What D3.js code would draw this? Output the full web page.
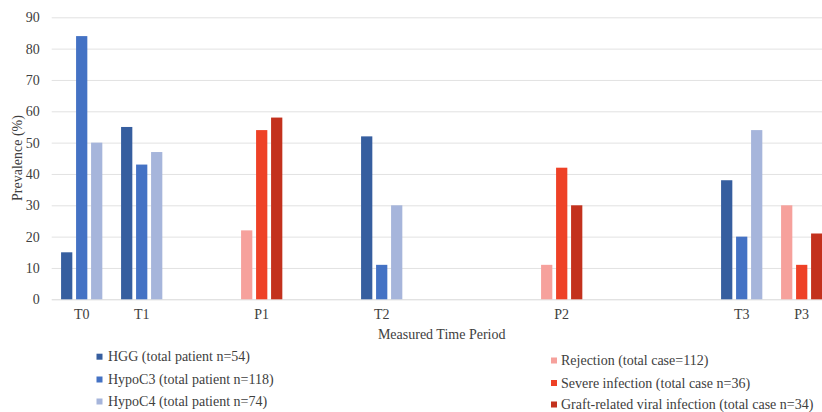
<!DOCTYPE html>
<html>
<head>
<meta charset="utf-8">
<script src="https://cdn.jsdelivr.net/npm/d3@7"></script>
<style>
  html, body { margin: 0; padding: 0; background: #fff; }
  svg { display: block; }
</style>
</head>
<body>
<svg id="chart" width="822" height="412"></svg>
<script>
// ---- data ----
const categories = ["T0", "T1", "", "P1", "", "T2", "", "", "P2", "", "", "T3", "P3"];
const blueSeries = ["HGG (total patient n=54)", "HypoC3 (total patient n=118)", "HypoC4 (total patient n=74)"];
const redSeries = ["Rejection (total case=112)", "Severe infection (total case n=36)", "Graft-related viral infection (total case n=34)"];
// values per category (null = no bar)
const hggValues    = [15, 55, null, null, null, 52, null, null, null, null, null, 38, null];
const hypoC3Values = [84, 43, null, null, null, 11, null, null, null, null, null, 20, null];
const hypoC4Values = [50, 47, null, null, null, 30, null, null, null, null, null, 54, null];
const rejectionValues = [null, null, null, 22, null, null, null, null, 11, null, null, null, 30];
const severeValues    = [null, null, null, 54, null, null, null, null, 42, null, null, null, 11];
const graftValues     = [null, null, null, 58, null, null, null, null, 30, null, null, null, 21];
const yTicks = [0, 10, 20, 30, 40, 50, 60, 70, 80, 90];
const xTitle = "Measured Time Period";
const yTitle = "Prevalence (%)";

const blueColors = ["#365E9F", "#4472C4", "#A6B5DB"];
const redColors = ["#F6A19C", "#EE4126", "#C3311D"];

(function () {
const FONT = "\"Liberation Serif\", serif";
const svg = d3.select("#chart");
const pLeft = 51.7, pRight = 831.7, pTop = 17.3, pBottom = 299.3;

const x0 = d3.scaleBand().domain(d3.range(categories.length)).range([pLeft, pRight]).paddingInner(0).paddingOuter(0);
const x1 = d3.scaleBand().domain([0, 1, 2]).range([0, x0.bandwidth()]).paddingInner(0.25).paddingOuter(0.625);
const y = d3.scaleLinear().domain([0, 90]).range([pBottom, pTop]);

// gridlines
const yAxis = d3.axisLeft(y).tickValues(yTicks).tickSize(-(822 - pLeft)).tickPadding(12);
const gy = svg.append("g").attr("transform", `translate(${pLeft},0)`).call(yAxis);
gy.attr("font-family", null).attr("font-size", null);
gy.select(".domain").remove();
gy.selectAll(".tick line").attr("stroke", "#E2E2E2").attr("stroke-width", 1);
gy.selectAll(".tick text").style("font-family", FONT).style("font-size", "14px").attr("fill", "#404040");
gy.selectAll(".tick").filter(d => d === 0).select("line").attr("stroke", "#D6D6D6");

// bars
const allSeries = [
  { vals: hggValues, color: blueColors[0], slot: 0 },
  { vals: hypoC3Values, color: blueColors[1], slot: 1 },
  { vals: hypoC4Values, color: blueColors[2], slot: 2 },
  { vals: rejectionValues, color: redColors[0], slot: 0 },
  { vals: severeValues, color: redColors[1], slot: 1 },
  { vals: graftValues, color: redColors[2], slot: 2 }
];
allSeries.forEach(s => {
  svg.append("g").selectAll("rect")
    .data(s.vals.map((v, i) => ({ v, i })).filter(d => d.v !== null))
    .join("rect")
    .attr("x", d => x0(d.i) + x1(s.slot))
    .attr("width", x1.bandwidth())
    .attr("y", d => y(d.v))
    .attr("height", d => y(0) - y(d.v))
    .attr("fill", s.color);
});

// x axis labels
const xAxis = d3.axisBottom(x0).tickFormat(i => categories[i]).tickSize(0).tickPadding(10);
const gx = svg.append("g").attr("transform", `translate(0,${pBottom})`).call(xAxis);
gx.attr("font-family", null).attr("font-size", null);
gx.select(".domain").remove();
gx.selectAll(".tick text").style("font-family", FONT).style("font-size", "14px").attr("fill", "#404040");

// axis titles
svg.append("text").attr("x", (pLeft + pRight) / 2).attr("y", 338.5)
  .attr("text-anchor", "middle").style("font-family", FONT).style("font-size", "14px").attr("fill", "#404040").text(xTitle);
svg.append("text").attr("transform", `translate(21.5,158) rotate(-90)`)
  .attr("text-anchor", "middle").style("font-family", FONT).style("font-size", "14px").attr("fill", "#404040").text(yTitle);

// legends
function legend(names, colors, mx, tx, ys) {
  names.forEach((n, i) => {
    svg.append("rect").attr("x", mx).attr("y", ys[i] - 3).attr("width", 6).attr("height", 6).attr("fill", colors[i]);
    svg.append("text").attr("x", tx).attr("y", ys[i] + 4.5).style("font-family", FONT).style("font-size", "14px")
      .attr("fill", "#404040").text(n);
  });
}
legend(blueSeries, blueColors, 96.5, 108, [356.7, 379.5, 401.5]);
legend(redSeries, redColors, 551, 561, [360.5, 383, 404.5]);
})();
</script>
</body>
</html>
